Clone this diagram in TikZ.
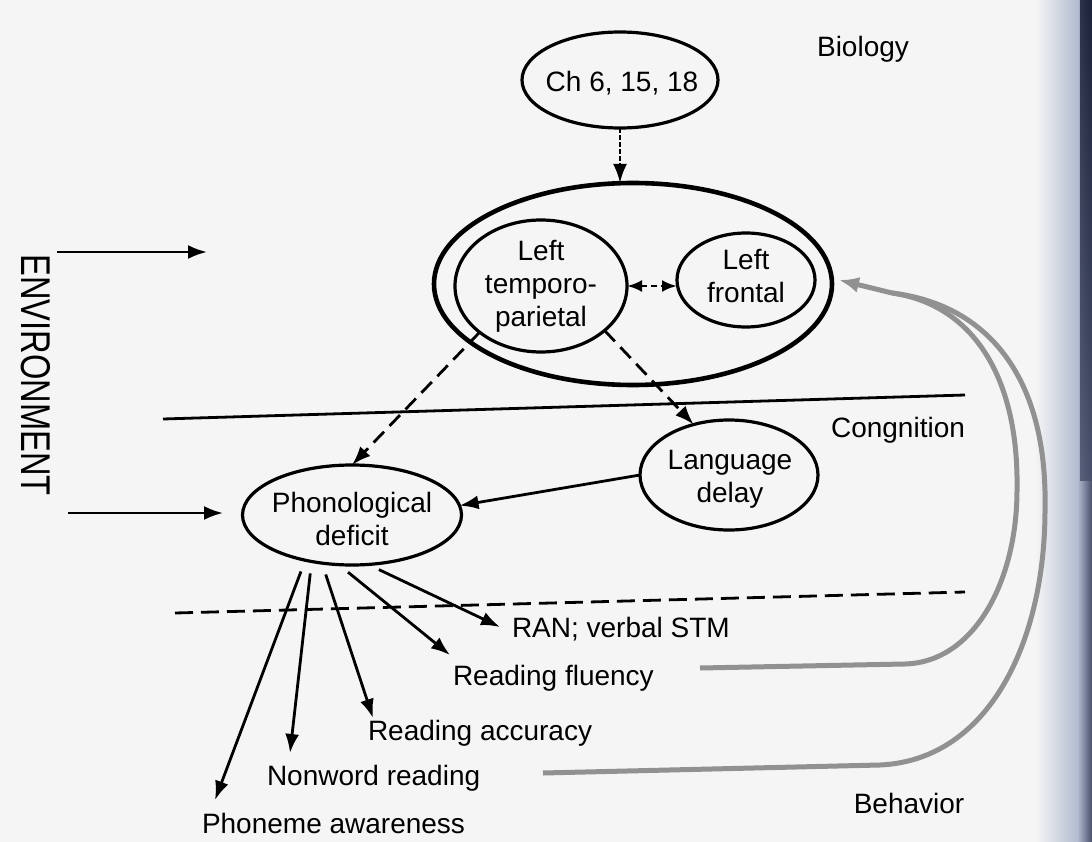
\documentclass[tikz,border=0pt]{standalone}
\usepackage{fontspec}
\setmainfont{Liberation Sans}
\usetikzlibrary{shapes.geometric,arrows.meta,calc}

\definecolor{paper}{RGB}{245,245,245}
\definecolor{loopgray}{RGB}{145,145,145}
\definecolor{edgeA}{RGB}{178,188,208}
\definecolor{edgeB}{RGB}{70,78,105}
\definecolor{edgeC}{RGB}{15,20,42}

\begin{document}
\begin{tikzpicture}[x=1pt,y=-1pt,
  font=\fontsize{28}{33}\selectfont,
  every node/.style={inner sep=0pt,outer sep=0pt},
  oval/.style={ellipse,draw,line width=3.2pt},
  txt/.style={align=center},
  headed/.style={-{Latex[length=19pt,width=14pt]}},
  link/.style={headed,line width=2.8pt},
  dlink/.style={link,dash pattern=on 15pt off 8pt},
  feedback/.style={draw=loopgray,line width=5pt},
  divider/.style={line width=2.8pt}
]
% page
\useasboundingbox (0,0) rectangle (1092,842);
\fill[paper] (0,0) rectangle (1092,842);
\shade[left color=paper,right color=edgeA] (1035,0) rectangle (1078,842);
\shade[left color=edgeA,right color=edgeB] (1077.5,0) rectangle (1092,842);
\shade[top color=edgeC,bottom color=edgeB,opacity=0.8] (1080,0) rectangle (1092,480);

% level names
\node[anchor=base] (bio) at (863,57) {Biology};
\node[anchor=base] (cog) at (898,437) {Congnition};
\node[anchor=base] (beh) at (909,813) {Behavior};
\node[rotate=-90,font=\fontsize{32}{36}\selectfont] (env) at (36,375) {\scalebox{1.02}[1.3]{ENVIRONMENT}};

% biology level
\node[oval,minimum width=196,minimum height=96] (ch) at (620,80) {};
\node[anchor=base] (cht) at (622,92) {Ch 6, 15, 18};
\node[oval,line width=4.6pt,minimum width=398,minimum height=202] (out) at (633,284) {};
\node[oval,minimum width=172,minimum height=132] (tp) at (541,286) {};
\node[txt] (tpt) at (541,286) {Left\\temporo-\\parietal};
\node[oval,minimum width=138,minimum height=94] (lf) at (746,280) {};
\node[txt] (lft) at (746,276) {Left\\frontal};

% cognition level
\node[oval,minimum width=178,minimum height=110] (ld) at (729,475) {};
\node[txt] (ldt) at (730,479) {Language\\delay};
\node[oval,minimum width=219,minimum height=100] (pd) at (352,515) {};
\node[txt] (pdt) at (352,519) {Phonological\\deficit};

% behaviour level
\node[anchor=base west] (ran) at (512,637) {RAN; verbal STM};
\node[anchor=base west] (rf) at (453,685) {Reading fluency};
\node[anchor=base west] (ra) at (368,740) {Reading accuracy};
\node[anchor=base west] (nr) at (267,785) {Nonword reading};
\node[anchor=base west] (pa) at (202,833) {Phoneme awareness};

% level dividers
\draw[divider] (163,419) -- (965,395);
\draw[divider,dash pattern=on 18pt off 8pt] (175,613) -- (965,592);

% environment inputs
\coordinate (e1s) at (57,252);
\coordinate (e1t) at (207,252);
\coordinate (e2s) at (68,513);
\coordinate (e2t) at (223,513);
\draw[link,line width=2.6pt] (e1s) -- (e1t);
\draw[link,line width=2.6pt] (e2s) -- (e2t);

% links
\draw[link,dash pattern=on 5pt off 2pt] (ch.south) -- (ch.south |- out.north);
\draw[line width=2.8pt,dash pattern=on 6pt off 4pt,{Latex[length=15pt,width=12pt]}-{Latex[length=15pt,width=12pt]}]
  (tp.east) -- (tp.east -| lf.west);
\draw[dlink] (tp.217) -- (pd.north);
\draw[dlink] (tp.-35) -- (ld.125);
\draw[link] (ld.west) -- (pd.5);

\draw[link,shorten <=12pt] (pd.224) -- ([shift={(13,-33)}]pa.base west);
\draw[link,shorten <=12pt] (pd.229) -- ([shift={(23,-32)}]nr.base west);
\draw[link,shorten <=12pt] (pd.238) -- ([shift={(5,-22)}]ra.base west);
\draw[link,shorten <=12pt] (pd.255) -- ([shift={(-3,-30)}]rf.base west);
\draw[link,shorten <=12pt] (pd.288) -- ([shift={(-12,-10)}]ran.base west);

% feedback from behaviour to the brain: two grey loops joining into one head
\coordinate (fbt) at ($(out.east)+(7,-4)$);
\coordinate (fbj) at (892,293);
\draw[feedback] ([shift={(247,-17)}]rf.base west) -- (905,664)
  .. controls (975,662) and (1017,580) .. (1017,490)
  .. controls (1019,380) and (975,305) .. (fbj);
\draw[feedback] ([shift={(276,-12)}]nr.base west) -- (880,765)
  .. controls (990,760) and (1045,640) .. (1045,510)
  .. controls (1048,380) and (990,305) .. (fbj);
\draw[feedback,-{Latex[length=20pt,width=16pt]}] (fbj) -- (fbt);
\end{tikzpicture}
\end{document}
